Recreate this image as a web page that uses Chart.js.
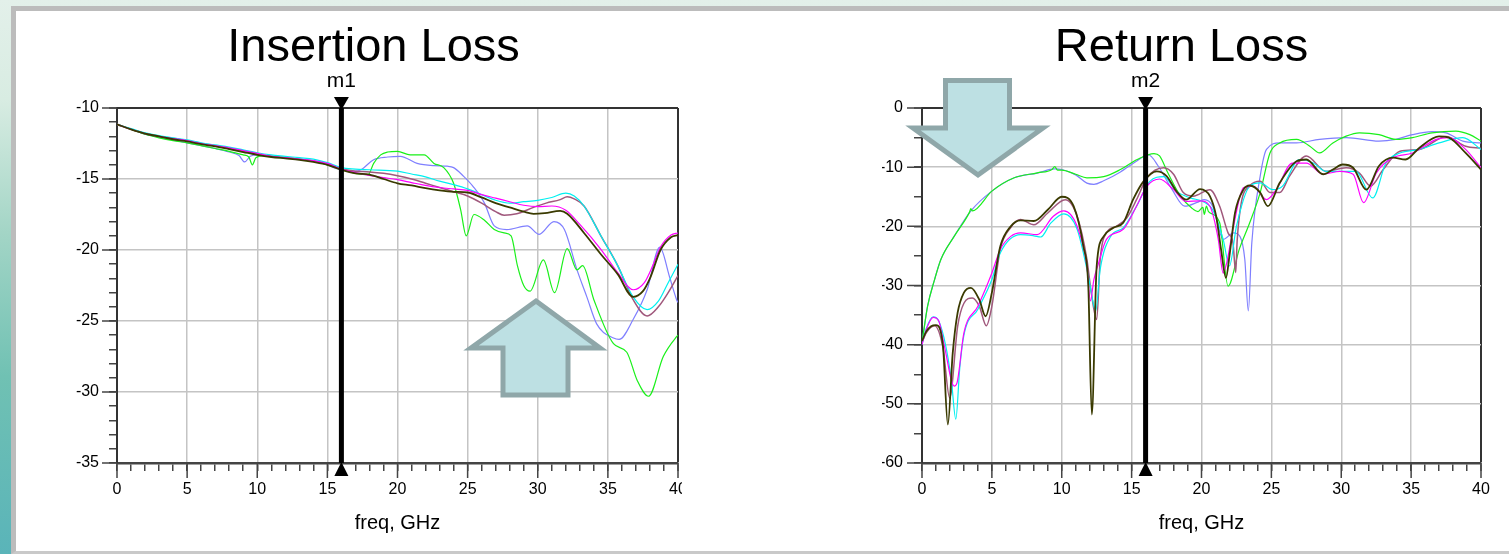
<!DOCTYPE html>
<html>
<head>
<meta charset="utf-8">
<title>Insertion Loss / Return Loss</title>
<script src="https://cdn.jsdelivr.net/npm/chart.js@4.4.1/dist/chart.umd.min.js"></script>
<style>
  html, body { margin: 0; padding: 0; }
  body {
    width: 1509px; height: 554px; overflow: hidden; position: relative;
    background: linear-gradient(to bottom, #e3f0ea 0%, #d8ece2 18%, #a3d5c6 42%, #70c1b3 68%, #5ab4b9 100%);
  }
  #panel {
    position: absolute; left: 11px; top: 6px; width: 1510px; height: 540px;
    background: #fff; border-left: 5px solid #bcbcbc; border-top: 5px solid #bcbcbc;
    border-bottom: 3px solid #c9c9c9;
  }
  .box { position: absolute; top: 11px; height: 540px; overflow: hidden; }
  #ilBox { left: 16px; width: 666px; }
  #rlBox { left: 879px; width: 630px; }
  #arrows { position: absolute; left: 0; top: 0; }
</style>
</head>
<body>
<div id="panel"></div>
<div class="box" id="ilBox"><canvas id="ilChart" width="715" height="540"></canvas></div>
<div class="box" id="rlBox"><canvas id="rlChart" width="630" height="540"></canvas></div>
<svg id="arrows" width="1509" height="554">
  <polygon points="536,301 600,348 568,348 568,395 503,395 503,348 471,348"
           fill="#bde0e3" stroke="#8fa7a9" stroke-width="5" stroke-linejoin="miter"/>
  <polygon points="945.5,80.5 1009.5,80.5 1009.5,128 1043,128 978,175 913,128 945.5,128"
           fill="#bde0e3" stroke="#8fa7a9" stroke-width="5" stroke-linejoin="miter"/>
</svg>
<script>
// ---- data: [freq GHz, dB] pairs ----
const ilOlive = [[0,-11.15],[1,-11.5],[2,-11.8],[3,-12.0],[4,-12.2],[5,-12.35],[6,-12.55],[7,-12.7],[8,-12.9],[9,-13.1],[10,-13.3],[11,-13.45],[12,-13.55],[13,-13.65],[14,-13.8],[15,-14.0],[16,-14.35],[17,-14.6],[18,-14.7],[19,-15.0],[20,-15.3],[21,-15.45],[22,-15.65],[23,-15.8],[24,-15.9],[25,-15.95],[26,-16.3],[27,-16.7],[28,-17.0],[29,-17.3],[29.7,-17.45],[30.5,-17.4],[31.6,-17.25],[32.1,-17.45],[33.3,-18.8],[34.5,-20.3],[35.7,-21.7],[36.8,-23.3],[37.5,-22.9],[38,-22.0],[38.75,-20.0],[39.5,-19.1],[40,-18.95]];
const ilMagenta = [[0,-11.15],[1,-11.5],[2,-11.8],[3,-12.0],[4,-12.15],[5,-12.3],[6,-12.5],[7,-12.65],[8,-12.8],[9,-13.0],[10,-13.2],[11,-13.4],[12,-13.5],[13,-13.6],[14,-13.7],[15,-13.9],[16,-14.3],[17,-14.55],[18,-14.75],[19,-14.9],[20,-15.05],[21,-15.25],[22,-15.45],[23,-15.6],[24,-15.7],[25,-15.8],[26,-16.1],[27,-16.35],[28,-16.6],[29,-16.85],[30,-16.95],[31,-16.9],[32,-17.2],[33,-18.2],[34.5,-19.95],[35.7,-21.6],[36.8,-22.8],[37.6,-22.3],[38.2,-21.1],[38.75,-19.8],[39.5,-18.95],[40,-18.8]];
const ilCyan = [[0,-11.15],[1,-11.45],[2,-11.75],[3,-11.95],[4,-12.1],[5,-12.25],[6,-12.45],[7,-12.6],[8,-12.75],[9,-12.95],[10,-13.15],[11,-13.3],[12,-13.4],[13,-13.5],[14,-13.6],[15,-13.85],[16,-14.2],[17,-14.3],[18,-14.35],[20,-14.45],[21,-14.65],[22,-14.85],[23,-15.15],[24,-15.4],[25,-15.7],[26,-16.1],[27,-16.5],[28,-16.7],[29,-16.6],[30,-16.5],[31,-16.3],[32,-16.0],[32.6,-16.2],[33.3,-16.9],[34.5,-19.0],[35.7,-21.1],[36.8,-23.3],[37.8,-24.2],[38.6,-23.6],[39.3,-22.3],[40,-21.0]];
const ilMauve = [[0,-11.15],[1,-11.5],[2,-11.8],[3,-12.0],[4,-12.15],[5,-12.3],[6,-12.5],[7,-12.65],[8,-12.85],[9,-13.05],[10,-13.25],[11,-13.4],[12,-13.5],[13,-13.6],[14,-13.75],[15,-13.95],[16,-14.3],[17,-14.45],[18,-14.5],[19,-14.6],[20,-14.77],[21,-15.0],[22,-15.3],[23,-15.6],[24,-15.9],[25,-16.2],[26,-16.7],[27,-17.3],[27.6,-17.55],[28.5,-17.45],[29.7,-17.0],[30.6,-16.7],[31.6,-16.45],[32.1,-16.25],[32.6,-16.4],[33.3,-16.9],[34.5,-19.0],[35.7,-21.1],[36.8,-23.5],[37.8,-24.65],[38.6,-24.0],[39.3,-23.0],[40,-21.8]];
const ilBlue = [[0,-11.15],[1,-11.5],[2,-11.85],[3,-12.05],[4,-12.25],[5,-12.45],[6,-12.65],[7,-12.85],[8,-13.1],[8.7,-13.35],[9.1,-13.8],[9.5,-13.4],[10,-13.3],[11,-13.4],[12,-13.5],[13,-13.6],[14,-13.7],[15,-14.0],[15.6,-14.25],[16,-14.3],[17,-14.45],[17.4,-14.35],[18.3,-13.64],[19.3,-13.45],[20.2,-13.4],[21.4,-13.9],[22.6,-14.06],[23.55,-14.1],[24,-14.2],[24.7,-14.8],[25.45,-15.6],[26.2,-16.7],[26.9,-18.3],[27.8,-18.56],[29.25,-18.3],[30.1,-18.9],[31.15,-18.0],[31.9,-18.56],[32.8,-21.4],[33.5,-23.3],[34.2,-25.2],[35.4,-26.2],[35.8,-26.3],[36.8,-24.9],[37.8,-22.8],[38.7,-19.8],[39.4,-21.9],[39.9,-23.5],[40,-23.7]];
const ilGreen = [[0,-11.15],[1,-11.5],[2,-11.85],[3,-12.1],[4,-12.3],[5,-12.45],[6,-12.65],[7,-12.85],[8,-13.05],[9,-13.3],[9.4,-13.45],[9.65,-14.0],[9.9,-13.5],[10.5,-13.35],[11,-13.4],[12,-13.5],[13,-13.6],[14,-13.75],[15,-14.0],[16,-14.3],[17,-14.6],[17.9,-14.7],[18.3,-13.9],[18.8,-13.3],[19.3,-13.1],[20,-13.05],[20.9,-13.3],[21.9,-13.3],[22.6,-13.9],[23.3,-14.2],[24,-15.3],[24.5,-17.15],[24.9,-19.0],[25.45,-17.5],[26.2,-17.9],[26.9,-18.56],[27.6,-18.8],[28.1,-19.0],[28.55,-21.1],[29.0,-22.5],[29.45,-22.9],[30.4,-20.7],[31.2,-23.0],[32.1,-19.9],[32.8,-21.4],[33.2,-21.1],[34.0,-23.5],[35.4,-26.6],[36.35,-27.2],[37.1,-29.2],[37.9,-30.3],[38.95,-27.5],[39.9,-26.1],[40,-26.0]];

const rlOlive = [[0,-39.4],[0.3,-37.8],[0.65,-36.9],[1.0,-36.7],[1.5,-40.2],[1.85,-53.5],[2.2,-41.4],[2.55,-34.6],[3.0,-31.2],[3.5,-30.4],[4.1,-32.4],[4.55,-35.2],[5,-31.2],[5.6,-23.4],[6.35,-20],[7.05,-19.0],[8.0,-19.1],[9.0,-17.2],[10.0,-15.0],[10.85,-16.6],[11.55,-23.4],[11.9,-30.1],[12.15,-51.8],[12.5,-26.7],[13.0,-21.7],[13.7,-20.25],[14.4,-19.4],[15.1,-15.5],[15.85,-12.4],[16.8,-10.7],[17.5,-11.5],[18.2,-14.05],[18.9,-15.5],[19.9,-13.7],[20.6,-14.9],[21.05,-18.3],[21.4,-23.9],[21.75,-28.7],[22.0,-25.0],[22.4,-17.7],[23.0,-13.8],[23.45,-13.1],[24.2,-14.3],[24.75,-16.6],[25.6,-12.65],[26.8,-9.0],[27.5,-8.7],[28.7,-11.2],[29.4,-10.4],[30.1,-9.55],[30.85,-10.1],[31.8,-13.8],[32.7,-9.8],[33.7,-8.4],[34.6,-8.7],[35.6,-6.7],[37.0,-4.8],[37.7,-5.0],[38.9,-7.6],[40,-10.4]];
const rlMagenta = [[0,-40],[0.3,-37.5],[0.8,-35.4],[1.2,-36],[1.6,-40.2],[2.3,-47],[2.5,-46.5],[3.0,-38],[4.0,-33.5],[5,-27.9],[5.6,-23.9],[6.35,-21.7],[7.05,-21.1],[8.25,-21.4],[9.4,-18.3],[10.15,-17.4],[11.1,-20],[11.8,-26.7],[12.05,-32.6],[12.3,-29],[12.6,-26.5],[13.2,-22.2],[14.4,-20.5],[15.35,-16.6],[16.1,-13.2],[17.0,-12.0],[18.0,-13.8],[18.9,-15.8],[19.9,-15.7],[20.6,-16.6],[21.2,-22.2],[21.55,-27.9],[21.8,-26.2],[22.25,-20.5],[23.0,-13.5],[23.7,-13.2],[24.65,-15.5],[25.35,-13.8],[26.5,-9.3],[27.5,-9.3],[28.7,-11.2],[29.9,-10.7],[30.85,-11.2],[31.6,-16.0],[32.5,-11.0],[33.7,-8.4],[35.1,-7.6],[36.8,-5.3],[37.7,-5.0],[38.9,-7.0],[40,-10.1]];
const rlCyan = [[0,-40],[0.3,-37.3],[0.8,-35.3],[1.2,-36],[1.7,-40.2],[2.1,-46],[2.42,-52.6],[2.7,-44],[3.0,-38.4],[4.0,-34],[5,-29],[5.6,-24.5],[7.05,-21.4],[8.0,-21.6],[8.5,-21.8],[9.2,-19.5],[10.15,-17.9],[11.1,-20.5],[11.9,-28.4],[12.3,-33.5],[12.43,-34.3],[12.75,-27.3],[13.5,-21.7],[14.4,-20.25],[15.35,-16.6],[16.3,-12.4],[17.3,-11.6],[18.2,-14.05],[19.2,-15.2],[20.1,-15.8],[20.8,-17.2],[21.55,-22.2],[22.0,-26.7],[22.5,-20],[23.45,-13.2],[24.2,-12.65],[25.1,-13.8],[25.8,-13.2],[27.0,-8.7],[28.0,-9.3],[28.9,-10.7],[30.1,-10.7],[31.05,-10.7],[32.25,-15.2],[33.2,-9.3],[34.2,-7.6],[35.6,-7.0],[37.0,-5.9],[38.7,-5.0],[40,-7.0]];
const rlMauve = [[0,-39.6],[0.3,-38],[0.9,-36.8],[1.5,-40.5],[1.98,-49.0],[2.55,-36.9],[3.0,-33],[3.6,-32.1],[4.1,-33.5],[4.6,-36.8],[5,-33.5],[5.6,-23.9],[6.35,-20.2],[7.05,-18.85],[8.0,-19.75],[9.0,-17.75],[10.25,-15.5],[11.1,-18.3],[11.8,-25.6],[12.1,-31],[12.5,-35.75],[12.75,-25.6],[13.2,-21.1],[13.9,-20],[14.65,-18.6],[15.35,-15.5],[16.1,-11.8],[17.3,-10.1],[18.0,-11.2],[18.7,-14.3],[19.4,-14.9],[20.6,-13.8],[21.3,-16.6],[21.9,-21.1],[22.25,-22.8],[22.45,-27.8],[22.55,-22.5],[22.85,-16.0],[23.45,-13.2],[24.2,-12.4],[24.9,-14.3],[25.6,-14.3],[26.3,-11.5],[27.5,-8.1],[28.9,-10.7],[30.35,-10.1],[31.3,-11.0],[32.1,-13.2],[33.0,-10.4],[34.2,-7.3],[35.6,-7.0],[37.5,-4.8],[38.9,-6.45],[40,-6.8]];
const rlBlue = [[0,-39.7],[0.4,-33.5],[0.9,-29],[1.35,-25.6],[2.3,-21.7],[3.5,-17.4],[5,-14.05],[6.6,-11.8],[8.25,-11.0],[9.5,-10.3],[10,-10.4],[11,-11.3],[11.8,-12.7],[12.3,-12.9],[13,-12.3],[14.2,-10.8],[15.4,-8.9],[16.2,-7.9],[16.9,-9.8],[17.9,-13.8],[18.8,-16.6],[19.75,-15.9],[20.2,-15.5],[20.8,-16.6],[21.55,-22.2],[22.3,-21.1],[22.75,-21.7],[23.1,-25.6],[23.35,-34.3],[23.6,-22.8],[24.2,-11.5],[24.65,-7.0],[25.6,-5.9],[26.8,-5.9],[28.45,-5.3],[30.35,-5.0],[32.7,-5.6],[33.9,-5.3],[35.1,-4.5],[36.5,-4.0],[37.5,-4.2],[38.7,-5.6],[40,-5.9]];
const rlGreen = [[0,-39.7],[0.4,-33.5],[0.9,-29],[1.35,-25.6],[2.3,-21.7],[3.4,-17.6],[3.5,-17.0],[3.6,-17.4],[5,-14.05],[6.6,-11.8],[8.25,-10.96],[9.3,-10.4],[9.5,-9.9],[9.7,-10.5],[10,-10.5],[11,-11.2],[11.8,-11.8],[13,-11.6],[14.2,-10.4],[15.4,-8.7],[16.6,-7.7],[17,-8.1],[17.6,-11],[18.5,-14.9],[19.3,-16.9],[19.75,-17.5],[20.1,-16.8],[20.2,-18],[20.35,-16.6],[20.5,-17.5],[21.3,-19.4],[21.9,-30.1],[22.7,-23.9],[23.45,-19.4],[24.2,-14.3],[24.9,-7.6],[25.6,-5.9],[26.8,-5.3],[27.75,-6.45],[28.45,-7.6],[29.4,-5.9],[30.35,-4.76],[31.3,-4.2],[32.7,-4.5],[33.9,-5.3],[35.1,-5.0],[36.5,-4.2],[38.2,-3.9],[39.2,-4.5],[40,-5.6]];

const markerFreq = 16;

Chart.defaults.font.family = '"Liberation Sans", Arial, sans-serif';
Chart.defaults.color = "#000";

const toXY = (pairs) => pairs.map(([x, y]) => ({ x: x, y: y }));

function line(data, color, width) {
  return {
    data: toXY(data),
    borderColor: color,
    borderWidth: width || 1.2,
    pointRadius: 0,
    fill: false,
    cubicInterpolationMode: "monotone",
  };
}

// marker line with triangles and label (m1 / m2)
const markerPlugin = {
  id: "marker",
  afterDatasetsDraw(chart, args, opts) {
    const { ctx, chartArea, scales } = chart;
    const x = scales.x.getPixelForValue(opts.freq);
    ctx.save();
    ctx.strokeStyle = "#000";
    ctx.lineWidth = 5;
    ctx.beginPath();
    ctx.moveTo(x, chartArea.top);
    ctx.lineTo(x, chartArea.bottom);
    ctx.stroke();
    ctx.fillStyle = "#000";
    ctx.beginPath();
    ctx.moveTo(x - 7.5, chartArea.top - 11);
    ctx.lineTo(x + 7.5, chartArea.top - 11);
    ctx.lineTo(x, chartArea.top + 2);
    ctx.fill();
    ctx.beginPath();
    ctx.moveTo(x - 7, chartArea.bottom + 13);
    ctx.lineTo(x + 7, chartArea.bottom + 13);
    ctx.lineTo(x, chartArea.bottom - 1);
    ctx.fill();
    ctx.font = '21px "Liberation Sans", Arial, sans-serif';
    ctx.textAlign = "center";
    ctx.textBaseline = "alphabetic";
    ctx.fillText(opts.label, x, chartArea.top - 21);
    ctx.restore();
  },
};

// longer tick marks on the labelled values
const majorTickPlugin = {
  id: "majorTicks",
  afterDraw(chart, args, opts) {
    const { ctx, chartArea, scales } = chart;
    ctx.save();
    ctx.strokeStyle = "#444";
    ctx.lineWidth = 1.5;
    ctx.beginPath();
    scales.x.ticks.forEach((t) => {
      if (t.value % opts.xMajor === 0) {
        const px = scales.x.getPixelForValue(t.value);
        ctx.moveTo(px, chartArea.bottom);
        ctx.lineTo(px, chartArea.bottom + opts.len);
      }
    });
    scales.y.ticks.forEach((t) => {
      if (t.value % opts.yMajor === 0) {
        const py = scales.y.getPixelForValue(t.value);
        ctx.moveTo(chartArea.left - opts.len, py);
        ctx.lineTo(chartArea.left, py);
      }
    });
    ctx.stroke();
    ctx.restore();
  },
};

function makeChart(id, cfg) {
  const gridColor = (major, edge) => (c) =>
    c.tick.value === edge ? "#333" : c.tick.value % major === 0 ? "#c4c4c4" : "rgba(0,0,0,0)";
  return new Chart(document.getElementById(id), {
    type: "line",
    data: { datasets: cfg.datasets },
    plugins: [markerPlugin, majorTickPlugin],
    options: {
      responsive: false,
      animation: false,
      layout: { padding: { top: 14, right: cfg.padRight, bottom: 0, left: cfg.padLeft } },
      plugins: {
        legend: { display: false },
        tooltip: { enabled: false },
        title: {
          display: true,
          text: cfg.title,
          color: "#000",
          font: { size: 47, weight: "normal", lineHeight: 1 },
          padding: { top: 0, bottom: 36 },
        },
        marker: { freq: markerFreq, label: cfg.marker },
        majorTicks: { xMajor: 5, yMajor: cfg.yMajor, len: 15 },
      },
      scales: {
        x: {
          type: "linear",
          min: 0,
          max: 40,
          afterFit: (s) => { s.height = 88; },
          ticks: {
            stepSize: 1,
            autoSkip: false,
            maxRotation: 0,
            padding: 9,
            font: { size: 16 },
            callback: (v) => (v % 5 === 0 ? v : ""),
          },
          grid: {
            color: gridColor(5, 40),
            lineWidth: (c) => (c.tick.value === 40 ? 2 : 1.5),
            tickColor: "#444",
            tickLength: 8,
            tickWidth: 1.5,
          },
          border: { display: true, color: "#444", width: 2.5 },
          title: {
            display: true,
            text: "freq, GHz",
            font: { size: 20 },
            padding: { top: 0, bottom: 16 },
          },
        },
        y: {
          min: cfg.yMin,
          max: cfg.yMax,
          afterFit: (s) => { s.width = cfg.yWidth; },
          ticks: {
            stepSize: cfg.yStep,
            autoSkip: false,
            padding: cfg.labelPad,
            font: { size: 16 },
            callback: (v) => (v % cfg.yMajor === 0 ? v : ""),
          },
          grid: {
            color: gridColor(cfg.yMajor, cfg.yMax),
            lineWidth: (c) => (c.tick.value === cfg.yMax ? 2 : 1.5),
            tickColor: "#444",
            tickLength: 8,
            tickWidth: 1.5,
          },
          border: { display: true, color: "#333", width: 2 },
        },
      },
    },
  });
}

makeChart("ilChart", {
  title: "Insertion Loss",
  marker: "m1",
  padLeft: 53,
  padRight: 53,
  yWidth: 48,
  labelPad: 10,
  yMin: -35,
  yMax: -10,
  yStep: 1,
  yMajor: 5,
  datasets: [
    line(ilOlive, "#3a3a00", 1.8),
    line(ilMagenta, "#ff00ff"),
    line(ilCyan, "#00f0f0"),
    line(ilMauve, "#a0587c", 1.5),
    line(ilGreen, "#19f019"),
    line(ilBlue, "#7f7fff"),
  ],
});

makeChart("rlChart", {
  title: "Return Loss",
  marker: "m2",
  padLeft: 3,
  padRight: 28,
  yWidth: 40,
  labelPad: 11,
  yMin: -60,
  yMax: 0,
  yStep: 5,
  yMajor: 10,
  datasets: [
    line(rlOlive, "#3a3a00", 1.8),
    line(rlMagenta, "#ff00ff"),
    line(rlCyan, "#00f0f0"),
    line(rlMauve, "#a0587c", 1.5),
    line(rlGreen, "#19f019"),
    line(rlBlue, "#7f7fff"),
  ],
});
</script>
</body>
</html>
